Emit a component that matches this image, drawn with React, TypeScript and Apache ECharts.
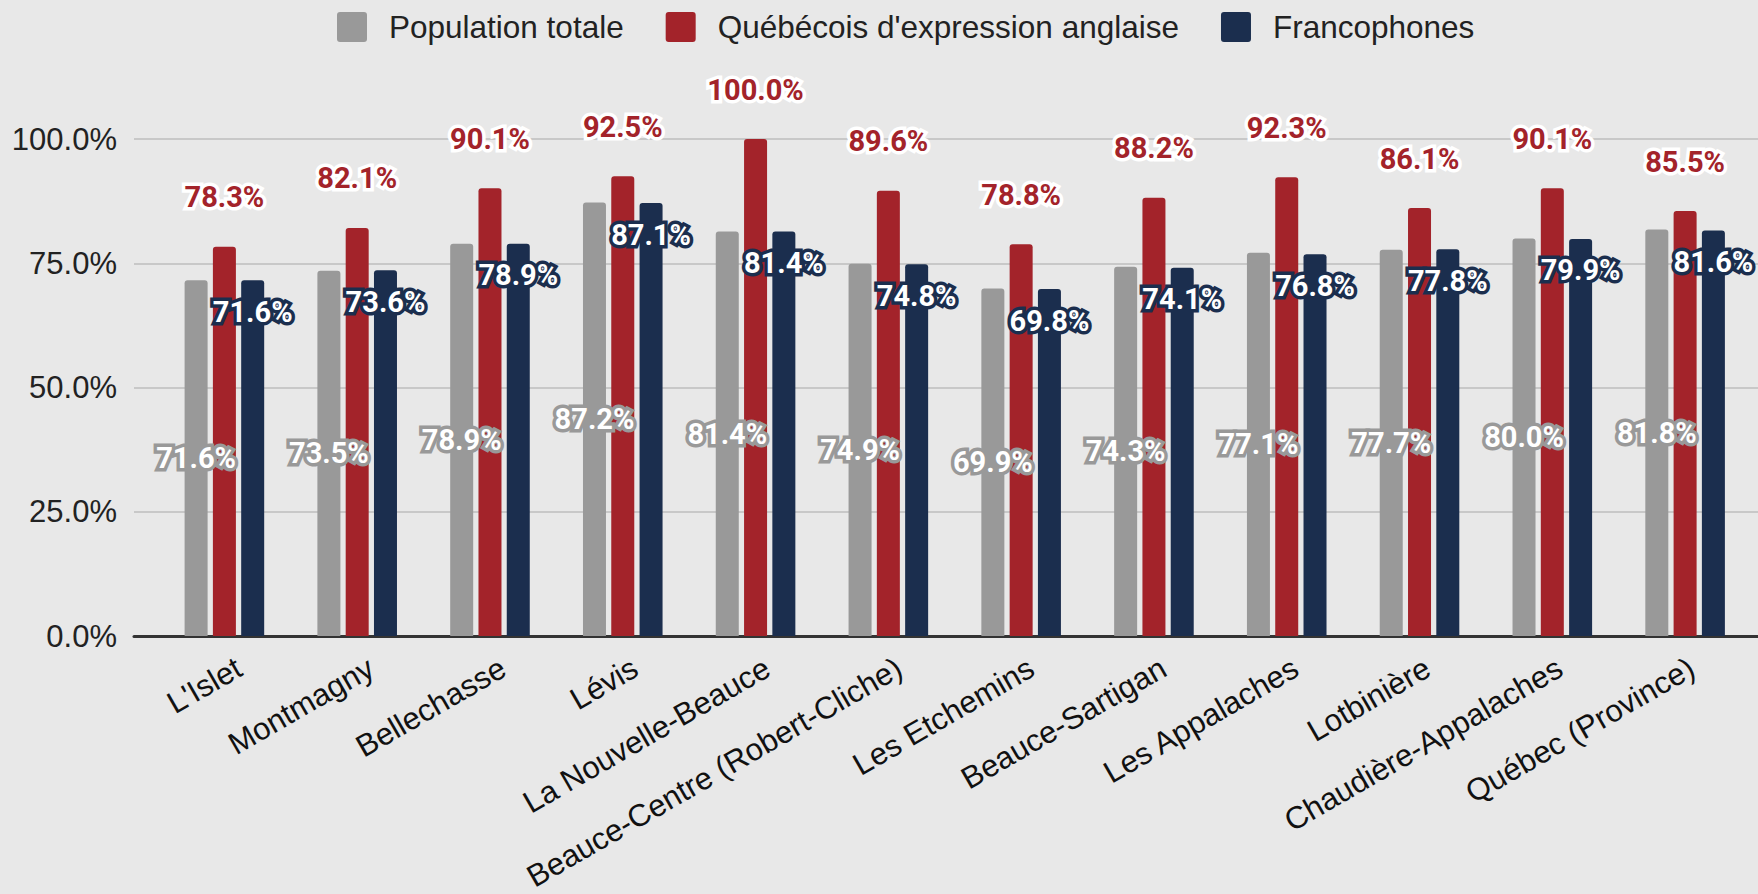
import React, { useEffect, useRef } from "react";
import * as echarts from "echarts";

const categories = [
  "L'Islet",
  "Montmagny",
  "Bellechasse",
  "Lévis",
  "La Nouvelle-Beauce",
  "Beauce-Centre (Robert-Cliche)",
  "Les Etchemins",
  "Beauce-Sartigan",
  "Les Appalaches",
  "Lotbinière",
  "Chaudière-Appalaches",
  "Québec (Province)",
];

const populationTotale = [71.6, 73.5, 78.9, 87.2, 81.4, 74.9, 69.9, 74.3, 77.1, 77.7, 80.0, 81.8];
const quebecoisAnglais = [78.3, 82.1, 90.1, 92.5, 100.0, 89.6, 78.8, 88.2, 92.3, 86.1, 90.1, 85.5];
const francophones = [71.6, 73.6, 78.9, 87.1, 81.4, 74.8, 69.8, 74.1, 76.8, 77.8, 79.9, 81.6];

const yTicks = [0, 25, 50, 75, 100];

const GRAY = "#999999";
const RED = "#a3232a";
const NAVY = "#1b2e4e";
const BG = "#e8e8e8";

const SQUARE_ICON =
  "path://M3,0 L27,0 Q30,0 30,3 L30,27 Q30,30 27,30 L3,30 Q0,30 0,27 L0,3 Q0,0 3,0 Z";

export default function App() {
  const ref = useRef<HTMLDivElement>(null);

  useEffect(() => {
    if (!ref.current) return;
    const chart = echarts.init(ref.current, null, { renderer: "svg" });
    const fmt = (p: any) => Number(p.value).toFixed(1) + "%";
    const labelBase = {
      show: true,
      fontFamily: "Roboto",
      fontWeight: "bold" as const,
      fontSize: 29,
      textBorderWidth: 7,
      formatter: fmt,
    };
    chart.setOption({
      animation: false,
      backgroundColor: BG,
      legend: {
        left: 332,
        top: 6,
        itemWidth: 30,
        itemHeight: 30,
        itemGap: 42,
        icon: SQUARE_ICON,
        textStyle: {
          fontFamily: "Liberation Sans",
          fontSize: 31.5,
          color: "#222",
          padding: [0, 0, 0, 17],
        },
        data: ["Population totale", "Québécois d'expression anglaise", "Francophones"],
      },
      grid: [
        { left: 158, right: 6.5, top: 139, bottom: 258 },
        { left: 134, right: 0, top: 139, bottom: 258 },
        { left: 173, right: -8.5, top: 139, bottom: 258 },
      ],
      xAxis: [
        {
          type: "category",
          gridIndex: 0,
          data: categories,
          axisLine: { show: false },
          axisTick: { show: false },
          axisLabel: { show: false },
        },
        {
          type: "value",
          gridIndex: 1,
          min: 0,
          max: 1,
          axisLine: { show: true, onZero: false, lineStyle: { color: "#333", width: 3 } },
          axisTick: { show: false },
          axisLabel: { show: false },
          splitLine: { show: false },
        },
        {
          type: "category",
          gridIndex: 2,
          data: categories,
          axisLine: { show: false },
          axisTick: { show: false },
          axisLabel: {
            interval: 0,
            rotate: 30,
            margin: 35,
            fontFamily: "Liberation Sans",
            fontSize: 31,
            color: "#111",
          },
        },
      ],
      yAxis: [
        {
          type: "value",
          gridIndex: 0,
          min: 0,
          max: 100,
          interval: 25,
          axisLabel: { show: false },
          axisLine: { show: false },
          axisTick: { show: false },
          splitLine: { show: false },
        },
        {
          type: "value",
          gridIndex: 1,
          min: yTicks[0],
          max: yTicks[yTicks.length - 1],
          interval: 25,
          axisLine: { show: false },
          axisTick: { show: false },
          axisLabel: {
            margin: 17,
            fontFamily: "Liberation Sans",
            fontSize: 31,
            color: "#222",
            formatter: (v: number) => v.toFixed(1) + "%",
          },
          splitLine: { show: true, lineStyle: { color: "#c8c8c8", width: 2 } },
        },
        {
          type: "value",
          gridIndex: 2,
          min: 0,
          max: 100,
          show: false,
        },
      ],
      series: [
        {
          name: "Population totale",
          type: "bar",
          xAxisIndex: 0,
          yAxisIndex: 0,
          data: populationTotale,
          barWidth: 23,
          barGap: "23%",
          itemStyle: { color: GRAY, borderRadius: [3, 3, 0, 0] },
          label: {
            ...labelBase,
            position: "inside",
            color: "#ffffff",
            textBorderColor: GRAY,
          },
          z: 3,
        },
        {
          name: "Québécois d'expression anglaise",
          type: "bar",
          xAxisIndex: 0,
          yAxisIndex: 0,
          data: quebecoisAnglais,
          barWidth: 23,
          barGap: "23%",
          itemStyle: { color: RED, borderRadius: [3, 3, 0, 0] },
          label: {
            ...labelBase,
            position: "top",
            distance: 35,
            color: RED,
            textBorderColor: "#ffffff",
          },
          z: 3,
        },
        {
          name: "Francophones",
          type: "bar",
          xAxisIndex: 0,
          yAxisIndex: 0,
          data: francophones,
          barWidth: 23,
          barGap: "23%",
          itemStyle: { color: NAVY, borderRadius: [3, 3, 0, 0] },
          label: {
            ...labelBase,
            position: "insideTop",
            distance: 17,
            color: "#ffffff",
            textBorderColor: NAVY,
          },
          z: 3,
        },
      ],
    });
    return () => chart.dispose();
  }, []);

  return (
    <div
      ref={ref}
      style={{ width: 1758, height: 894, position: "absolute", left: 0, top: 0 }}
    />
  );
}
